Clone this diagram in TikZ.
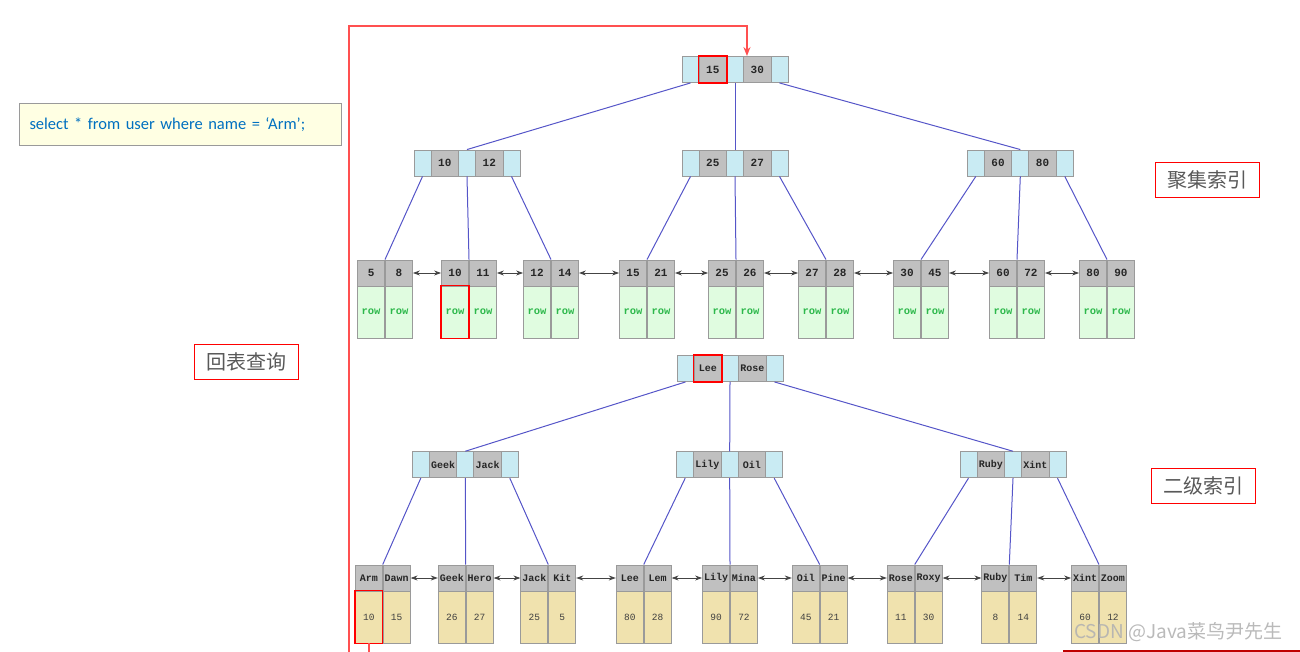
\documentclass[tikz,border=0pt]{standalone}
\usepackage{fontspec}
\setmonofont{Liberation Mono}
\newfontfamily\cjkfont{Noto Sans CJK SC}
\newfontfamily\sqlfont{Carlito}
\usepackage{tikz}
\usetikzlibrary{arrows.meta}

\definecolor{ptrblue}{HTML}{C9EBF3}
\definecolor{keygrey}{HTML}{C0C0C0}
\definecolor{cellline}{HTML}{9A9A9A}
\definecolor{rowgreen}{HTML}{E0FCE0}
\definecolor{rowtext}{HTML}{2DB84B}
\definecolor{valyellow}{HTML}{F0E2AE}
\definecolor{edgeblue}{HTML}{5555C8}
\definecolor{linkgrey}{HTML}{444444}
\definecolor{sqlblue}{HTML}{0070C0}
\definecolor{sqlfill}{HTML}{FFFFE3}
\definecolor{notegrey}{HTML}{595959}
\definecolor{looped}{HTML}{FF5050}

\tikzstyle{cell} = [rectangle, draw=cellline, line width=0.9pt, minimum height=26pt, inner sep=0pt, text=black!85, font=\ttfamily\bfseries\fontsize{11}{11}\selectfont]
\tikzstyle{ptr} = [cell, fill=ptrblue, minimum width=17pt]
\tikzstyle{keycell} = [cell, fill=keygrey, minimum width=27.5pt]
\tikzstyle{namekey} = [keycell, font=\ttfamily\bfseries\fontsize{10}{10}\selectfont]
\tikzstyle{leafkey} = [cell, fill=keygrey, minimum width=27pt]
\tikzstyle{leafname} = [leafkey, font=\ttfamily\bfseries\fontsize{10}{10}\selectfont]
\tikzstyle{rowcell} = [cell, fill=rowgreen, minimum width=27pt, minimum height=52pt, text=rowtext, font=\ttfamily\bfseries\fontsize{10.5}{10.5}\selectfont]
\tikzstyle{valcell} = [cell, fill=valyellow, minimum width=27pt, minimum height=52pt, text=black!75, font=\ttfamily\fontsize{9.5}{9.5}\selectfont]
\tikzstyle{edge} = [draw=edgeblue, line width=1pt]
\tikzstyle{link} = [<->, >={Stealth[length=7pt,width=5pt]}, draw=linkgrey, line width=0.8pt]
\tikzstyle{redmark} = [draw=red, line width=1.4pt]
\tikzstyle{backlink} = [->, >={Stealth[length=9pt,width=7pt]}, draw=looped, line width=1.5pt]
\tikzstyle{note} = [rectangle, draw=red, line width=1pt, fill=white, minimum width=104pt, minimum height=35pt, text=notegrey, font=\cjkfont\fontsize{20}{20}\selectfont]

% one inner page: pointer, key, pointer, key, pointer
\newcommand{\innernode}[6]{%
  \node (#1p0) [ptr] at (#2,#3) {};
  \node (#1k1) [#6, right of=#1p0] {#4};
  \node (#1p1) [ptr, right of=#1k1] {};
  \node (#1k2) [#6, right of=#1p1] {#5};
  \node (#1p2) [ptr, right of=#1k2] {};
}
% one leaf page: two keys, their data below
\newcommand{\leafnode}[9]{%
  \node (#1k1) [#8, anchor=east] at (#2,#3) {#4};
  \node (#1k2) [#8, anchor=west] at (#2,#3) {#5};
  \node (#1v1) [#9, below of=#1k1, yshift=-16.75pt] {#6};
  \node (#1v2) [#9, below of=#1k2, yshift=-16.75pt] {#7};
}

\begin{document}
\begin{tikzpicture}[x=1pt, y=-1pt, node distance=22.25pt]
\useasboundingbox (0,0) rectangle (1300,652);
\clip (0,0) rectangle (1300,652);

% clustered index
\innernode{croot}{690.5}{69.5}{15}{30}{keycell}
\innernode{cl}{422.5}{163}{10}{12}{keycell}
\innernode{cm}{690.5}{163}{25}{27}{keycell}
\innernode{cr}{975.8}{163}{60}{80}{keycell}

\leafnode{c1}{385}{273}{5}{8}{row}{row}{leafkey}{rowcell}
\leafnode{c2}{469}{273}{10}{11}{row}{row}{leafkey}{rowcell}
\leafnode{c3}{551}{273}{12}{14}{row}{row}{leafkey}{rowcell}
\leafnode{c4}{647}{273}{15}{21}{row}{row}{leafkey}{rowcell}
\leafnode{c5}{736}{273}{25}{26}{row}{row}{leafkey}{rowcell}
\leafnode{c6}{826}{273}{27}{28}{row}{row}{leafkey}{rowcell}
\leafnode{c7}{921}{273}{30}{45}{row}{row}{leafkey}{rowcell}
\leafnode{c8}{1017}{273}{60}{72}{row}{row}{leafkey}{rowcell}
\leafnode{c9}{1107}{273}{80}{90}{row}{row}{leafkey}{rowcell}

% secondary index
\innernode{sroot}{685.5}{368.5}{Lee}{Rose}{namekey}
\innernode{sl}{420.8}{464.7}{Geek}{Jack}{namekey}
\innernode{sm}{685.2}{464.7}{Lily}{Oil}{namekey}
\innernode{sr}{968.5}{464.7}{Ruby}{Xint}{namekey}

\leafnode{s1}{382.7}{578}{Arm}{Dawn}{10}{15}{leafname}{valcell}
\leafnode{s2}{465.7}{578}{Geek}{Hero}{26}{27}{leafname}{valcell}
\leafnode{s3}{548.3}{578}{Jack}{Kit}{25}{5}{leafname}{valcell}
\leafnode{s4}{643.7}{578}{Lee}{Lem}{80}{28}{leafname}{valcell}
\leafnode{s5}{730}{578}{Lily}{Mina}{90}{72}{leafname}{valcell}
\leafnode{s6}{819.7}{578}{Oil}{Pine}{45}{21}{leafname}{valcell}
\leafnode{s7}{914.7}{578}{Rose}{Roxy}{11}{30}{leafname}{valcell}
\leafnode{s8}{1009.3}{578}{Ruby}{Tim}{8}{14}{leafname}{valcell}
\leafnode{s9}{1099}{578}{Xint}{Zoom}{60}{12}{leafname}{valcell}

% tree edges
\draw [edge] (crootp0.south) -- (clp1.north);
\draw [edge] (crootp1.south) -- (cmp1.north);
\draw [edge] (crootp2.south) -- (crp1.north);
\draw [edge] (clp0.south) -- (c1k1.north east);
\draw [edge] (clp1.south) -- (c2k1.north east);
\draw [edge] (clp2.south) -- (c3k1.north east);
\draw [edge] (cmp0.south) -- (c4k1.north east);
\draw [edge] (cmp1.south) -- (c5k1.north east);
\draw [edge] (cmp2.south) -- (c6k1.north east);
\draw [edge] (crp0.south) -- (c7k1.north east);
\draw [edge] (crp1.south) -- (c8k1.north east);
\draw [edge] (crp2.south) -- (c9k1.north east);

\draw [edge] (srootp0.south) -- (slp1.north);
\draw [edge] (srootp1.south) -- (smp1.north);
\draw [edge] (srootp2.south) -- (srp1.north);
\draw [edge] (slp0.south) -- (s1k1.north east);
\draw [edge] (slp1.south) -- (s2k1.north east);
\draw [edge] (slp2.south) -- (s3k1.north east);
\draw [edge] (smp0.south) -- (s4k1.north east);
\draw [edge] (smp1.south) -- (s5k1.north east);
\draw [edge] (smp2.south) -- (s6k1.north east);
\draw [edge] (srp0.south) -- (s7k1.north east);
\draw [edge] (srp1.south) -- (s8k1.north east);
\draw [edge] (srp2.south) -- (s9k1.north east);

% leaf links
\draw [link] (c1k2.east) -- (c2k1.west);
\draw [link] (c2k2.east) -- (c3k1.west);
\draw [link] (c3k2.east) -- (c4k1.west);
\draw [link] (c4k2.east) -- (c5k1.west);
\draw [link] (c5k2.east) -- (c6k1.west);
\draw [link] (c6k2.east) -- (c7k1.west);
\draw [link] (c7k2.east) -- (c8k1.west);
\draw [link] (c8k2.east) -- (c9k1.west);

\draw [link] (s1k2.east) -- (s2k1.west);
\draw [link] (s2k2.east) -- (s3k1.west);
\draw [link] (s3k2.east) -- (s4k1.west);
\draw [link] (s4k2.east) -- (s5k1.west);
\draw [link] (s5k2.east) -- (s6k1.west);
\draw [link] (s6k2.east) -- (s7k1.west);
\draw [link] (s7k2.east) -- (s8k1.west);
\draw [link] (s8k2.east) -- (s9k1.west);

% search path
\draw [redmark] (crootk1.south west) rectangle (crootk1.north east);
\draw [redmark] (srootk1.south west) rectangle (srootk1.north east);
\draw [redmark] (c2v1.south west) rectangle (c2v1.north east);
\draw [redmark] (s1v1.south west) rectangle (s1v1.north east);
\coordinate (turnlow) at (349,668);
\coordinate (turnhigh) at (349,26);
\draw [backlink] (s1v1.south) |- (turnlow) -- (turnhigh) -| ([xshift=3pt]crootp1.north east);

% labels
\node (sql) [rectangle, draw=cellline, line width=0.8pt, fill=sqlfill, text width=302pt, inner xsep=10pt, minimum height=42pt, align=left, text=sqlblue, font=\sqlfont\fontsize{16.5}{16.5}\selectfont] at (180.5,124.3) {select * from user where name = ‘Arm’;};
\node (back) [note] at (246.5,361.8) {回表查询};
\node (clustered) [note] at (1207.5,179.8) {聚集索引};
\node (secondary) [note] at (1203.8,486.3) {二级索引};
\node (wm) [text=black!30, opacity=0.9, font=\cjkfont\fontsize{19}{19}\selectfont, inner sep=0pt, anchor=west] at (1074,632) {CSDN @Java菜鸟尹先生};
\draw [draw=red!75!black, line width=1.5pt] (1063,651) -- (1300,651);

\end{tikzpicture}
\end{document}
